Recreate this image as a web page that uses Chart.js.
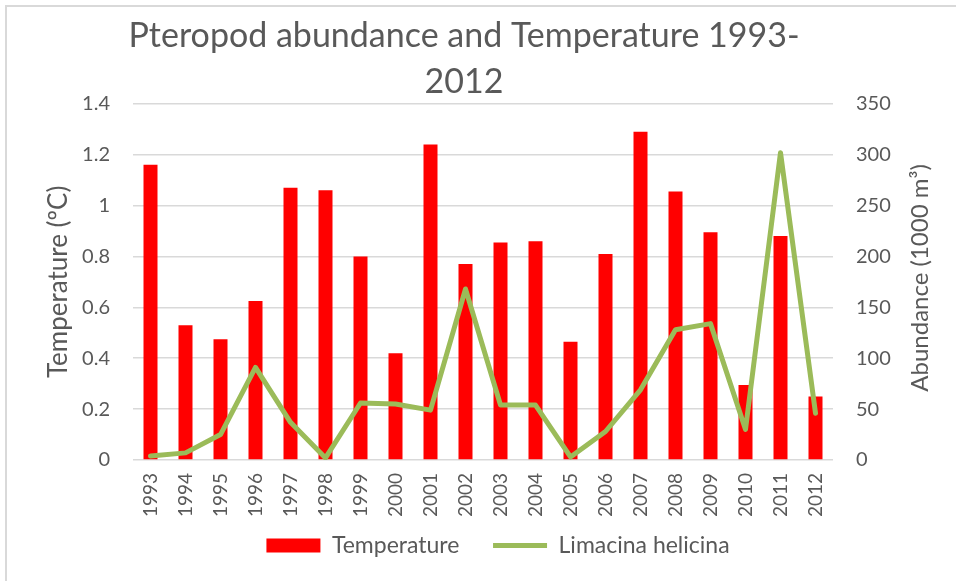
<!DOCTYPE html>
<html>
<head>
<meta charset="utf-8">
<script src="https://cdn.jsdelivr.net/npm/chart.js@4"></script>
<style>
  body { margin: 0; background: #fff; overflow: hidden; }
  #frame { position: absolute; left: 5px; top: 5px; width: 1000px; height: 1000px; border: 2px solid #d9d9d9; }
  #wrap { position: absolute; left: 0; top: 0; width: 956px; height: 581px; }
</style>
</head>
<body>
<div id="frame"></div>
<div id="wrap"><canvas id="chart" width="956" height="581"></canvas></div>
<script>
const years = ['1993', '1994', '1995', '1996', '1997', '1998', '1999', '2000', '2001', '2002',
               '2003', '2004', '2005', '2006', '2007', '2008', '2009', '2010', '2011', '2012'];
// temperature anomaly, left axis
const temperature = [1.16, 0.53, 0.475, 0.625, 1.07, 1.06, 0.80, 0.42, 1.24, 0.77,
                     0.855, 0.86, 0.465, 0.81, 1.29, 1.055, 0.895, 0.295, 0.88, 0.25];
// Limacina helicina abundance, right axis
const abundance = [4, 7, 25, 91, 37, 2, 56, 55, 49, 168,
                   54, 54, 3, 28, 69, 128, 134, 30, 302, 46];

const grey = '#595959';
const fontFam = 'Lato, "Open Sans", sans-serif';

// right axis title reads bottom-to-top like the left one,
// and the title sits a bit left of the canvas centre
const extras = {
    id: 'extras',
    afterLayout(chart) {
        const t = chart.titleBlock;
        if (t) { t.left -= 34; t.right -= 34; }
    },
    afterDraw(chart) {
        const c = chart.ctx;
        const area = chart.chartArea;
        c.save();
        c.translate(920, (area.top + area.bottom) / 2 - 4);
        c.rotate(-Math.PI / 2);
        c.fillStyle = grey;
        c.font = '24px ' + fontFam;
        c.textAlign = 'center';
        c.textBaseline = 'middle';
        c.fillText('Abundance (1000 m³)', 0, 0);
        c.restore();
    }
};

new Chart(document.getElementById('chart'), {
    data: {
        labels: years,
        datasets: [{
            type: 'bar',
            label: 'Temperature',
            data: temperature,
            backgroundColor: '#ff0000',
            barPercentage: 0.4,
            categoryPercentage: 1,
            pointStyle: 'rect',
            yAxisID: 'y',
            order: 1
        }, {
            type: 'line',
            label: 'Limacina helicina',
            data: abundance,
            borderColor: '#9bbb59',
            backgroundColor: '#9bbb59',
            borderWidth: 5,
            borderCapStyle: 'round',
            borderJoinStyle: 'round',
            pointRadius: 0,
            pointStyle: 'line',
            tension: 0,
            yAxisID: 'y1',
            order: 0
        }]
    },
    options: {
        responsive: false,
        animation: false,
        layout: { padding: { left: 40, right: 0, top: 0, bottom: 14 } },
        plugins: {
            title: {
                display: true,
                text: ['Pteropod abundance and Temperature 1993-', '2012'],
                color: grey,
                font: { family: fontFam, size: 34, weight: 'normal', lineHeight: 1.35 },
                padding: { top: 13, bottom: -1 }
            },
            legend: {
                position: 'bottom',
                labels: {
                    usePointStyle: true,
                    pointStyleWidth: 54,
                    boxHeight: 14,
                    color: grey,
                    font: { family: fontFam, size: 23 },
                    padding: 16,
                    // keep the wider gap between the two entries
                    generateLabels(chart) {
                        const items = Chart.defaults.plugins.legend.labels.generateLabels(chart);
                        items.forEach(it => { if (it.datasetIndex === 0) it.text += '   '; });
                        return items;
                    },
                    sort: (a, b) => a.datasetIndex - b.datasetIndex
                }
            },
            tooltip: { enabled: false }
        },
        scales: {
            x: {
                grid: { display: false },
                border: { display: false },
                ticks: {
                    color: grey,
                    font: { family: fontFam, size: 19 },
                    minRotation: 90,
                    maxRotation: 90,
                    padding: 5
                },
                afterFit(scale) { scale.height = 58; }
            },
            y: {
                position: 'left',
                min: 0,
                max: 1.4,
                grid: { color: '#d9d9d9', lineWidth: 1.5, drawTicks: false },
                border: { display: false },
                ticks: {
                    stepSize: 0.2,
                    color: grey,
                    font: { family: fontFam, size: 20 },
                    padding: 23,
                    callback: v => String(Number(v.toFixed(1)))
                },
                title: {
                    display: true,
                    text: 'Temperature (ºC)',
                    color: grey,
                    font: { family: fontFam, size: 26 },
                    padding: { top: 3, bottom: 0 }
                },
                afterFit(scale) { scale.width = 93; }
            },
            y1: {
                position: 'right',
                min: 0,
                max: 350,
                grid: { display: false, drawTicks: false },
                border: { display: false },
                ticks: {
                    stepSize: 50,
                    color: grey,
                    font: { family: fontFam, size: 20 },
                    padding: 23
                },
                afterFit(scale) { scale.width = 123; }
            }
        }
    },
    plugins: [extras]
});
</script>
</body>
</html>
